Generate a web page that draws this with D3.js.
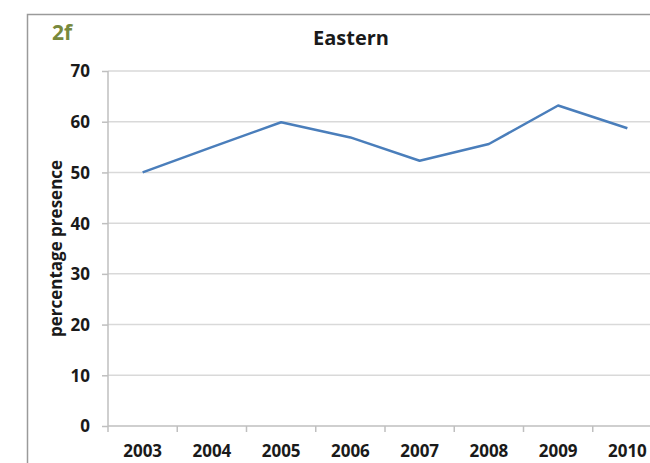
<!DOCTYPE html>
<html>
<head>
<meta charset="utf-8">
<script src="https://cdn.jsdelivr.net/npm/d3@7"></script>
<style>
  html, body { margin: 0; padding: 0; background: #fff; overflow: hidden; }
  svg { display: block; }
  text { font-family: "Open Sans", "Liberation Sans", sans-serif; font-weight: bold; fill: #1a1a1a; }
</style>
</head>
<body>
<svg id="chart" width="650" height="463"></svg>
<script>
// Yearly percentage presence, Eastern region
const years = ["2003", "2004", "2005", "2006", "2007", "2008", "2009", "2010"];
const presence = [50, 55, 59.9, 56.9, 52.3, 55.6, 63.2, 58.7];
const yTicks = [0, 10, 20, 30, 40, 50, 60, 70];

const svg = d3.select("#chart");

// chart frame (continues past the right and bottom edges)
svg.append("path")
  .attr("d", "M27.5,480 V14.5 H700")
  .attr("fill", "none")
  .attr("stroke", "#9a9a9a")
  .attr("stroke-width", 1.5);

const plot = { left: 108, right: 662, top: 71, bottom: 426 };

const x = d3.scaleBand().domain(years).range([plot.left, plot.right]);
const y = d3.scaleLinear().domain([0, 70]).range([plot.bottom, plot.top]);

// horizontal gridlines
svg.append("g")
  .selectAll("line")
  .data(yTicks.filter(v => v > 0))
  .join("line")
  .attr("x1", plot.left)
  .attr("x2", plot.right)
  .attr("y1", d => y(d))
  .attr("y2", d => y(d))
  .attr("stroke", "#d9d9d9")
  .attr("stroke-width", 1.5);

// y axis
const yAxis = svg.append("g")
  .attr("transform", `translate(${plot.left},0)`)
  .call(d3.axisLeft(y).tickValues(yTicks).tickSize(6).tickPadding(12).tickFormat(d3.format("d")));
yAxis.select(".domain").remove();
yAxis.selectAll(".tick line").attr("stroke", "#bfbfbf").attr("stroke-width", 1.5);
yAxis.selectAll(".tick text").style("font-size", "17px").attr("dy", "0.35em");

// vertical axis line
svg.append("line")
  .attr("x1", plot.left).attr("x2", plot.left)
  .attr("y1", y(70)).attr("y2", y(0) + 6)
  .attr("stroke", "#bfbfbf").attr("stroke-width", 1.5);

// x axis labels
const xAxis = svg.append("g")
  .attr("transform", `translate(0,${plot.bottom})`)
  .call(d3.axisBottom(x).tickSize(0).tickPadding(19));
xAxis.select(".domain").remove();
xAxis.selectAll(".tick text").style("font-size", "17px");

// x axis baseline and category boundary ticks
svg.append("line")
  .attr("x1", plot.left).attr("x2", plot.right)
  .attr("y1", y(0)).attr("y2", y(0))
  .attr("stroke", "#bfbfbf").attr("stroke-width", 1.5);
svg.append("g")
  .selectAll("line")
  .data(years.slice(1))
  .join("line")
  .attr("x1", d => x(d)).attr("x2", d => x(d))
  .attr("y1", y(0)).attr("y2", y(0) + 6)
  .attr("stroke", "#bfbfbf").attr("stroke-width", 1.5);

// data line
const line = d3.line()
  .x((d, i) => x(years[i]) + x.bandwidth() / 2)
  .y(d => y(d));
svg.append("path")
  .datum(presence)
  .attr("d", line)
  .attr("fill", "none")
  .attr("stroke", "#4a7ebb")
  .attr("stroke-width", 2.5)
  .attr("stroke-linejoin", "round");

// title
svg.append("text")
  .attr("x", 351).attr("y", 45)
  .attr("text-anchor", "middle")
  .style("font-size", "20px")
  .text("Eastern");

// panel label
svg.append("text")
  .attr("x", 52).attr("y", 40)
  .style("font-size", "21px")
  .style("fill", "#77893d")
  .text("2f");

// y axis title
svg.append("text")
  .attr("transform", `translate(62,${(plot.top + plot.bottom) / 2}) rotate(-90)`)
  .attr("text-anchor", "middle")
  .style("font-size", "17px")
  .text("percentage presence");
</script>
</body>
</html>
